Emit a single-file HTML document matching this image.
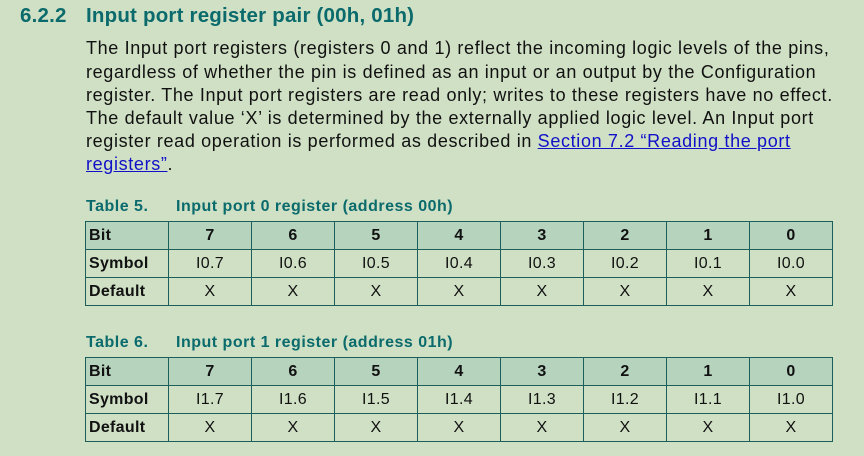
<!DOCTYPE html>
<html><head><meta charset="utf-8"><style>
body{margin:0;width:864px;height:456px;background:#d0e0c5;font-family:"Liberation Sans",Arial,sans-serif;position:relative;overflow:hidden;color:#111}
.h{position:absolute;top:4px;font-size:20.5px;font-weight:bold;color:#0a6a6c;white-space:nowrap;letter-spacing:0.2px}
.p{position:absolute;left:86px;font-size:18px;white-space:nowrap;line-height:23px;letter-spacing:0.65px}
a{color:#1010c8;text-decoration:underline}
.cap{position:absolute;font-size:16px;font-weight:bold;color:#0a6a6c;white-space:nowrap;letter-spacing:0.5px}
table{position:absolute;left:85px;border-collapse:collapse;font-size:16px;table-layout:fixed;width:745px}
td{border:1.5px solid #1c5e5a;height:27px;padding:0;text-align:center;letter-spacing:0.3px}
td:first-child{text-align:left;padding-left:3px;font-weight:bold}
tr.b td{background:#b6d3bd;font-weight:bold}
tr.s td+td{border-left-color:#8cb8a8}
</style></head><body>
<div class="h" style="left:20px">6.2.2</div>
<div class="h" style="left:86px">Input port register pair (00h, 01h)</div>
<div class="p" style="top:37px">The Input port registers (registers 0 and 1) reflect the incoming logic levels of the pins,</div>
<div class="p" style="top:61px">regardless of whether the pin is defined as an input or an output by the Configuration</div>
<div class="p" style="top:84px">register. The Input port registers are read only; writes to these registers have no effect.</div>
<div class="p" style="top:107px">The default value ‘X’ is determined by the externally applied logic level. An Input port</div>
<div class="p" style="top:130px">register read operation is performed as described in <a>Section 7.2 “Reading the port </a></div>
<div class="p" style="top:153px"><a>registers”</a>.</div>
<div class="cap" style="left:86px;top:198px">Table 5.</div>
<div class="cap" style="left:176px;top:198px">Input port 0 register (address 00h)</div>
<table style="top:221px">
<colgroup><col span="9" style="width:83px"></colgroup>
<tr class="b"><td>Bit</td><td>7</td><td>6</td><td>5</td><td>4</td><td>3</td><td>2</td><td>1</td><td>0</td></tr>
<tr class="s"><td>Symbol</td><td>I0.7</td><td>I0.6</td><td>I0.5</td><td>I0.4</td><td>I0.3</td><td>I0.2</td><td>I0.1</td><td>I0.0</td></tr>
<tr><td>Default</td><td>X</td><td>X</td><td>X</td><td>X</td><td>X</td><td>X</td><td>X</td><td>X</td></tr>
</table>
<div class="cap" style="left:86px;top:334px">Table 6.</div>
<div class="cap" style="left:176px;top:334px">Input port 1 register (address 01h)</div>
<table style="top:357px">
<colgroup><col span="9" style="width:83px"></colgroup>
<tr class="b"><td>Bit</td><td>7</td><td>6</td><td>5</td><td>4</td><td>3</td><td>2</td><td>1</td><td>0</td></tr>
<tr class="s"><td>Symbol</td><td>I1.7</td><td>I1.6</td><td>I1.5</td><td>I1.4</td><td>I1.3</td><td>I1.2</td><td>I1.1</td><td>I1.0</td></tr>
<tr><td>Default</td><td>X</td><td>X</td><td>X</td><td>X</td><td>X</td><td>X</td><td>X</td><td>X</td></tr>
</table>
</body></html>
